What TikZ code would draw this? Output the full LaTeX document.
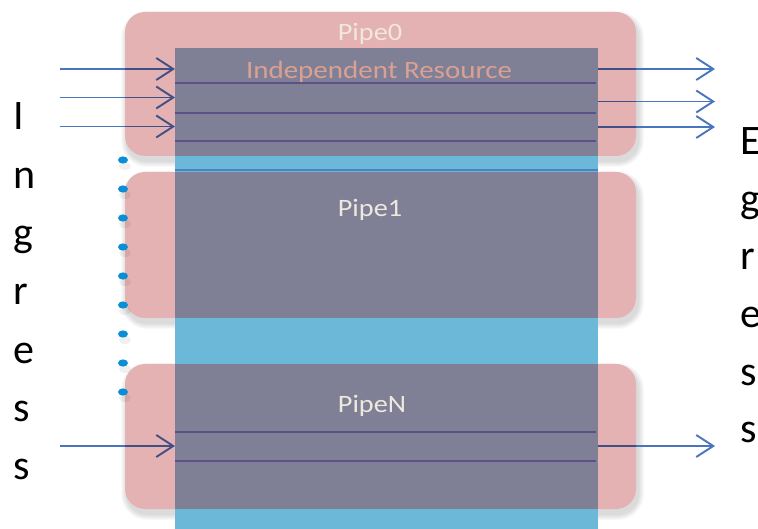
\documentclass[tikz,border=0pt]{standalone}
\usepackage{fontspec}
\setmainfont{Carlito}
\usetikzlibrary{arrows.meta}
\definecolor{pinkf}{RGB}{228,178,178}
\definecolor{colblue}{RGB}{108,184,216}
\definecolor{overlapc}{RGB}{127,127,150}
\definecolor{arrblue}{RGB}{72,116,192}
\definecolor{linepurple}{RGB}{92,80,134}
\definecolor{seplineblue}{RGB}{80,128,196}
\definecolor{dotblue}{RGB}{10,142,214}
\definecolor{pipetext}{RGB}{240,232,220}
\definecolor{restext}{RGB}{218,160,148}
\begin{document}
\begin{tikzpicture}[x=1pt,y=-1pt,
  pipebox/.style={fill=pinkf, rounded corners=20pt, blend mode=multiply},
  whitebox/.style={fill=white, rounded corners=20pt},
  shadowbox/.style={fill=black, opacity=0.022},
  arr/.style={draw=arrblue, line width=1.9pt, -{Straight Barb[length=17pt,width=22pt,line width=1.9pt]}},
  sepline/.style={draw=linepurple, line width=1.9pt},
  pipelabel/.style={text=pipetext, anchor=base, inner sep=0pt, font=\fontsize{25}{29}\selectfont},
  reslabel/.style={text=restext, anchor=base, inner sep=0pt, font=\fontsize{25}{29}\selectfont},
  bigletter/.style={text=black, anchor=base west, inner sep=0pt, font=\fontsize{42}{50}\selectfont},
  dotmark/.style={fill=dotblue},
  dotshadow/.style={fill=black, opacity=0.06}
]
\useasboundingbox (0,0) rectangle (758,529);
\fill[white] (0,0) rectangle (758,529);

% soft shadows of the pipe boxes
\foreach \ya/\yb in {12/156, 172/318, 364/509}{
  \foreach \k in {1,...,6}{
    \fill[shadowbox, rounded corners=20pt+\k pt]
      (125-\k+2, \ya-\k+5) rectangle (636+\k+2, \yb+\k+5);
  }
  \fill[whitebox] (125,\ya) rectangle (636,\yb);
}

% arrows (ingress / egress)
\coordinate (i1s) at (60,69);   \coordinate (i1e) at (175,69);
\coordinate (i2s) at (60,97.5); \coordinate (i2e) at (175,97.5);
\coordinate (i3s) at (60,126.5);\coordinate (i3e) at (175,126.5);
\coordinate (i4s) at (60,446);  \coordinate (i4e) at (175,446);
\coordinate (o1s) at (598,69);  \coordinate (o1e) at (715,69);
\coordinate (o2s) at (598,101.5);\coordinate (o2e) at (715,101.5);
\coordinate (o3s) at (598,127); \coordinate (o3e) at (715,127);
\coordinate (o4s) at (598,446); \coordinate (o4e) at (715,446);
\draw[arr] (i1s) -- (i1e);
\draw[arr] (i2s) -- (i2e);
\draw[arr] (i3s) -- (i3e);
\draw[arr] (i4s) -- (i4e);
\draw[arr] (o1s) -- (o1e);
\draw[arr] (o2s) -- (o2e);
\draw[arr] (o3s) -- (o3e);
\draw[arr] (o4s) -- (o4e);

% pipe boxes
\fill[pipebox] (125,12) rectangle (636,156);
\fill[pipebox] (125,172) rectangle (636,318);
\fill[pipebox] (125,364) rectangle (636,509);

% independent resource column
\fill[colblue] (175,48) rectangle (598,535);
\fill[overlapc] (175,48) rectangle (598,156);
\fill[overlapc] (175,172) rectangle (598,318);
\fill[overlapc] (175,364) rectangle (598,509);

% lanes
\draw[sepline] (175,82.7) -- (596,82.7);
\draw[sepline] (175,112.7) -- (596,112.7);
\draw[sepline] (175,141) -- (596,141);
\draw[draw=seplineblue, line width=1.9pt] (175,170) -- (598,170);
\draw[sepline] (175,431.7) -- (596,431.7);
\draw[sepline] (175,461) -- (596,461);

% labels
\node[pipelabel] (pipe0) at (370,41) {\scalebox{1.13}[1]{Pipe0}};
\node[reslabel] (indep) at (379,79) {\scalebox{1.16}[1]{Independent Resource}};
\node[pipelabel] (pipe1) at (370,216.5) {\scalebox{1.13}[1]{Pipe1}};
\node[pipelabel] (pipeN) at (372,412) {\scalebox{1.13}[1]{PipeN}};

% dots
\foreach \yy in {160,189,218,247,276,305,334,363,392}{
  \fill[dotshadow] (125,\yy+6) ellipse [x radius=6pt, y radius=4pt];
  \fill[dotmark] (123,\yy) ellipse [x radius=5pt, y radius=3.6pt];
}

% Ingress
\node[bigletter] (inI) at (13,130) {I};
\node[bigletter] (in2) at (13,188.3) {n};
\node[bigletter] (in3) at (13,246.6) {g};
\node[bigletter] (in4) at (13,304.9) {r};
\node[bigletter] (in5) at (13,363.2) {e};
\node[bigletter] (in6) at (13,421.5) {s};
\node[bigletter] (in7) at (13,479.8) {s};

% Egress
\node[bigletter] (egE) at (740,155) {E};
\node[bigletter] (eg2) at (740,212.5) {g};
\node[bigletter] (eg3) at (740,270) {r};
\node[bigletter] (eg4) at (740,327.5) {e};
\node[bigletter] (eg5) at (740,385) {s};
\node[bigletter] (eg6) at (740,442.5) {s};
\end{tikzpicture}
\end{document}
